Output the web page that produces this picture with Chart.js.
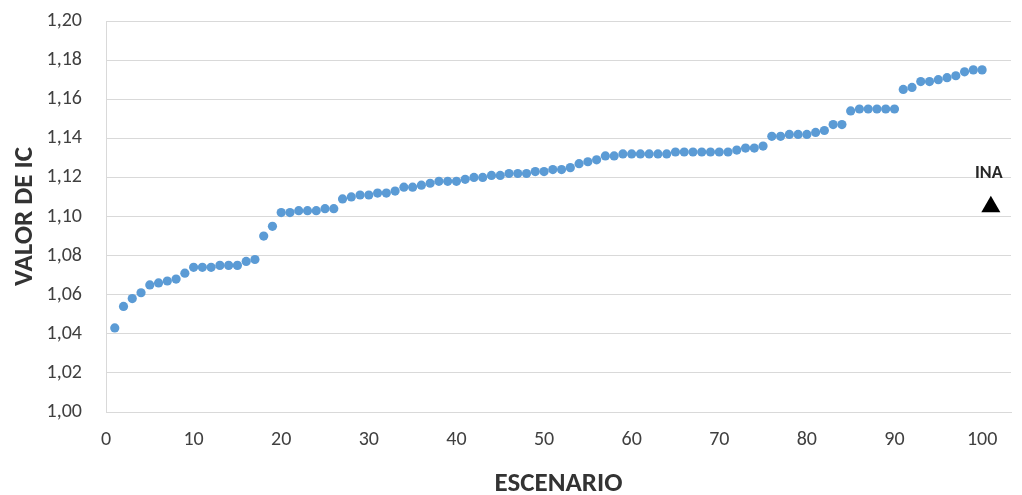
<!DOCTYPE html>
<html lang="es">
<head>
<meta charset="utf-8">
<title>Valor de IC por escenario</title>
<script src="https://cdn.jsdelivr.net/npm/chart.js@4/dist/chart.umd.min.js"></script>
<style>
  html, body { margin: 0; padding: 0; background: #ffffff; }
  #wrap { width: 1022px; height: 495px; position: relative; }
</style>
</head>
<body>
<div id="wrap"><canvas id="chart" width="1022" height="495"></canvas></div>
<script>
// Scenario numbers (x) and the IC value of each scenario (y)
const escenarios = [
  1, 2, 3, 4, 5, 6, 7, 8, 9, 10,
  11, 12, 13, 14, 15, 16, 17, 18, 19, 20,
  21, 22, 23, 24, 25, 26, 27, 28, 29, 30,
  31, 32, 33, 34, 35, 36, 37, 38, 39, 40,
  41, 42, 43, 44, 45, 46, 47, 48, 49, 50,
  51, 52, 53, 54, 55, 56, 57, 58, 59, 60,
  61, 62, 63, 64, 65, 66, 67, 68, 69, 70,
  71, 72, 73, 74, 75, 76, 77, 78, 79, 80,
  81, 82, 83, 84, 85, 86, 87, 88, 89, 90,
  91, 92, 93, 94, 95, 96, 97, 98, 99, 100
];
const valorIC = [
  1.043, 1.054, 1.058, 1.061, 1.065, 1.066, 1.067, 1.068, 1.071, 1.074,
  1.074, 1.074, 1.075, 1.075, 1.075, 1.077, 1.078, 1.090, 1.095, 1.102,
  1.102, 1.103, 1.103, 1.103, 1.104, 1.104, 1.109, 1.110, 1.111, 1.111,
  1.112, 1.112, 1.113, 1.115, 1.115, 1.116, 1.117, 1.118, 1.118, 1.118,
  1.119, 1.120, 1.120, 1.121, 1.121, 1.122, 1.122, 1.122, 1.123, 1.123,
  1.124, 1.124, 1.125, 1.127, 1.128, 1.129, 1.131, 1.131, 1.132, 1.132,
  1.132, 1.132, 1.132, 1.132, 1.133, 1.133, 1.133, 1.133, 1.133, 1.133,
  1.133, 1.134, 1.135, 1.135, 1.136, 1.141, 1.141, 1.142, 1.142, 1.142,
  1.143, 1.144, 1.147, 1.147, 1.154, 1.155, 1.155, 1.155, 1.155, 1.155,
  1.165, 1.166, 1.169, 1.169, 1.170, 1.171, 1.172, 1.174, 1.175, 1.175
];

// Reference point INA
const inaX = [101];
const inaY = [1.105];
const inaLabel = 'INA';

// Axis settings
const xMin = 0, xMax = 103.3, xStep = 10;
const yMin = 1.00, yMax = 1.20, yStep = 0.02;

const escenarioPts = escenarios.map((x, i) => ({ x: x, y: valorIC[i] }));
const inaPts = inaX.map((x, i) => ({ x: x, y: inaY[i] }));

const FONT = 'Carlito, Lato, "Liberation Sans", sans-serif';

// Writes the INA label above its marker
const inaLabelPlugin = {
  id: 'inaLabel',
  afterDatasetsDraw(chart) {
    const meta = chart.getDatasetMeta(1);
    const ctx = chart.ctx;
    ctx.save();
    ctx.font = 'bold 18px ' + FONT;
    ctx.fillStyle = '#262626';
    ctx.textAlign = 'center';
    ctx.textBaseline = 'middle';
    meta.data.forEach(pt => {
      ctx.fillText(inaLabel, pt.x - 2, pt.y - 33);
    });
    ctx.restore();
  }
};

new Chart(document.getElementById('chart'), {
  type: 'scatter',
  data: {
    datasets: [
      {
        label: 'Escenarios',
        data: escenarioPts,
        backgroundColor: '#5b9bd5',
        borderColor: '#5b9bd5',
        borderWidth: 0,
        pointRadius: 4.6,
        pointHoverRadius: 4.6
      },
      {
        label: inaLabel,
        data: inaPts,
        pointStyle: 'triangle',
        backgroundColor: '#000000',
        borderColor: '#000000',
        borderWidth: 0,
        pointRadius: 11,
        pointHoverRadius: 11
      }
    ]
  },
  options: {
    responsive: false,
    animation: false,
    devicePixelRatio: 1,
    layout: { padding: { top: 21, right: 7, bottom: 0, left: 0 } },
    plugins: {
      legend: { display: false },
      tooltip: { enabled: false }
    },
    scales: {
      x: {
        type: 'linear',
        min: xMin,
        max: xMax,
        ticks: {
          stepSize: xStep,
          includeBounds: false,
          padding: 16,
          color: '#404040',
          font: { family: FONT, size: 20 }
        },
        grid: { display: false, drawTicks: false },
        border: { display: true, color: '#d9d9d9', width: 1 },
        title: {
          display: true,
          text: 'ESCENARIO',
          color: '#333333',
          font: { family: FONT, size: 27, weight: 'bold', lineHeight: 0.8 },
          padding: { top: 0, bottom: 0 }
        },
        afterFit(scale) {
          scale.height = 83;
          scale.paddingLeft = 0;
          scale.paddingRight = 0;
        }
      },
      y: {
        type: 'linear',
        min: yMin,
        max: yMax,
        ticks: {
          stepSize: yStep,
          padding: 24,
          color: '#404040',
          font: { family: FONT, size: 20 },
          callback: v => Number(v).toFixed(2).replace('.', ',')
        },
        grid: { color: '#d9d9d9', lineWidth: 1, drawTicks: false },
        border: { display: true, color: '#d9d9d9', width: 1 },
        title: {
          display: true,
          text: 'VALOR DE IC',
          color: '#333333',
          font: { family: FONT, size: 27, weight: 'bold', lineHeight: 1.1 },
          padding: { top: 10, bottom: 0 }
        },
        afterFit(scale) {
          scale.width = 106;
          scale.paddingTop = 0;
          scale.paddingBottom = 0;
        }
      }
    }
  },
  plugins: [inaLabelPlugin]
});
</script>
</body>
</html>
